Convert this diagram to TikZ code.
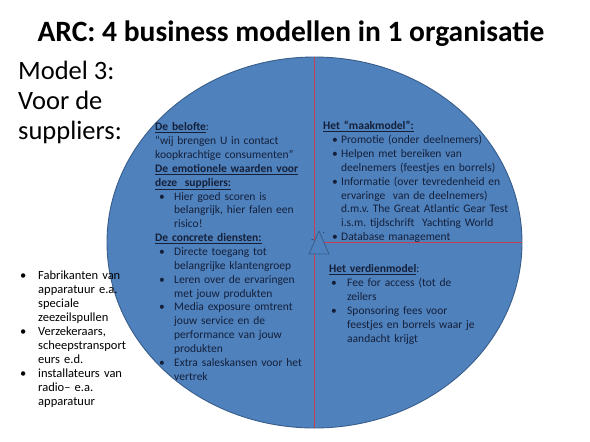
\documentclass[tikz,border=0pt]{standalone}
\usepackage{fontspec}
\setmainfont{Carlito}
\usetikzlibrary{shapes.geometric}
\definecolor{arcblue}{HTML}{4F81BD}
\definecolor{arcedge}{HTML}{385D8A}
\definecolor{arcred}{HTML}{C8404E}
\definecolor{arcink}{HTML}{14203A}
\frenchspacing
% bullet line: #1 hang indent, #2 bullet offset, #3 text
\newcommand\bitem[3]{\par\noindent\hangindent=#1\hangafter=1\makebox[#1][l]{\hspace{#2}\textbullet}#3\par}
\newcommand\hdr[1]{\par\noindent #1\par}
\begin{document}
\begin{tikzpicture}[x=1pt, y=-1pt,
    wheel/.style={ellipse, draw=arcedge, fill=arcblue, line width=0.9pt, inner sep=0pt, minimum width=415pt, minimum height=371pt},
    split/.style={draw=arcred, line width=1pt},
    handle/.style={draw=arcedge, fill=arcblue, line width=0.8pt, line join=round},
    block/.style={anchor=base west, inner sep=0pt, align=left, text=arcink, font=\fontsize{11.5pt}{13.85pt}\selectfont},
]
\useasboundingbox (0,0) rectangle (590,442);
\node[wheel] (wheel) at (314.5,242.5) {};
\draw[split] (wheel.north) -- (wheel.south);
\draw[split] (wheel.center) -- (wheel.east);
\draw[handle] (319,231) -- (329,254) -- (309,254) -- cycle;
\node[inner sep=0pt, text=arcink, font=\fontsize{8pt}{8pt}\selectfont] (dash) at (312.5,241) {-};
\node[inner sep=0pt, text=arcink, font=\fontsize{8pt}{8pt}\selectfont] (dot) at (324,233.5) {.};

\node[anchor=base, inner sep=0pt, font=\bfseries\fontsize{29.5pt}{34pt}\selectfont] (title) at (291,41) {ARC: 4 business modellen in 1 organisatie};
\node[anchor=base west, inner sep=0pt, align=left, font=\fontsize{26.5pt}{30pt}\selectfont] (model) at (18,139) {Model 3:\\Voor de\\suppliers:};

\node[block, text width=170pt] (belofte) at (155,117) {%
\hdr{\underline{\textbf{De belofte}}:}%
\hdr{“wij brengen U in contact\newline koopkrachtige consumenten”}%
\hdr{\underline{\textbf{De emotionele waarden voor}}\newline\underline{\textbf{deze\ \ suppliers:}}}%
\bitem{19pt}{4pt}{Hier goed scoren is\newline belangrijk, hier falen een\newline risico!}%
\hdr{\underline{\textbf{De concrete diensten:}}}%
\bitem{19pt}{4pt}{Directe toegang tot\newline belangrijke klantengroep}%
\bitem{19pt}{4pt}{Leren over de ervaringen\newline met jouw produkten}%
\bitem{19pt}{4pt}{Media exposure omtrent\newline jouw service en de\newline performance van jouw\newline produkten}%
\bitem{19pt}{4pt}{Extra saleskansen voor het\newline vertrek}};

\node[block, text width=190pt] (maak) at (323,116) {%
\hdr{\underline{\textbf{Het “maakmodel”:}}}%
\bitem{18pt}{9pt}{Promotie (onder deelnemers)}%
\bitem{18pt}{9pt}{Helpen met bereiken van\newline deelnemers (feestjes en borrels)}%
\bitem{18pt}{9pt}{Informatie (over tevredenheid en\newline ervaringe\ \ van de deelnemers)\newline d.m.v. The Great Atlantic Gear Test\newline i.s.m. tijdschrift\ \ Yachting World}%
\bitem{18pt}{9pt}{Database management}};

\node[block, text width=170pt] (verdien) at (329,259) {%
\hdr{\underline{\textbf{Het verdienmodel}}:}%
\bitem{18pt}{2pt}{Fee for access (tot de\newline zeilers}%
\bitem{18pt}{2pt}{Sponsoring fees voor\newline feestjes en borrels waar je\newline aandacht krijgt}};

\node[block, text=black, text width=120pt, font=\fontsize{12.5pt}{14pt}\selectfont] (makers) at (20,265) {%
\bitem{18pt}{0pt}{Fabrikanten van\newline apparatuur e.a.\newline speciale\newline zeezeilspullen}%
\bitem{18pt}{0pt}{Verzekeraars,\newline scheepstransport\newline eurs e.d.}%
\bitem{18pt}{0pt}{installateurs van\newline radio– e.a.\newline apparatuur}};
\end{tikzpicture}
\end{document}
